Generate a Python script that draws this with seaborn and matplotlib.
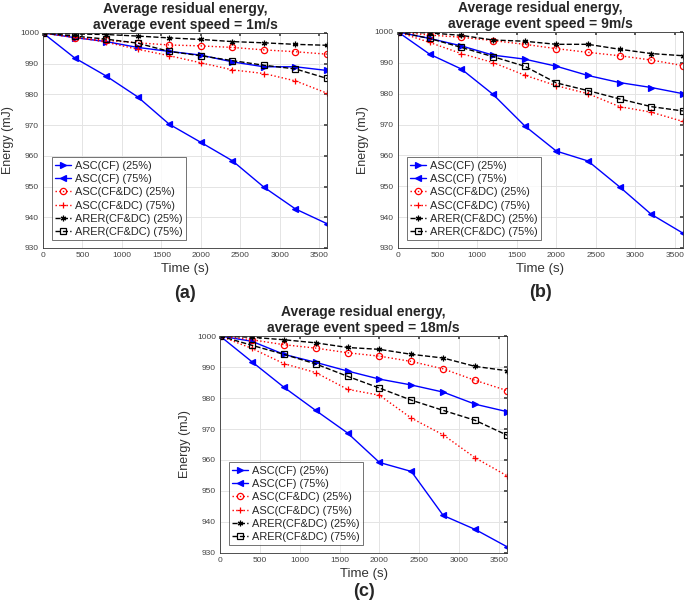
import numpy as np
import pandas as pd
import seaborn as sns
import matplotlib
matplotlib.use("Agg")
import matplotlib.pyplot as plt

# tiempos de muestreo (s)
time_s = [0, 400, 800, 1200, 1600, 2000, 2400, 2800, 3200, 3600]

series_names = ["ASC(CF) (25%)", "ASC(CF) (75%)", "ASC(CF&DC) (25%)",
                "ASC(CF&DC) (75%)", "ARER(CF&DC) (25%)", "ARER(CF&DC) (75%)"]

# (a) velocidad 1 m/s
a_asc_cf_25 = [1000, 998.5, 997.2, 995.3, 994.0, 992.8, 990.6, 989.0, 989.0, 987.8]
a_asc_cf_75 = [1000, 991.9, 986.0, 979.2, 970.3, 964.4, 958.4, 949.8, 942.7, 937.9]
a_asc_dc_25 = [1000, 998.5, 997.6, 996.8, 996.1, 995.8, 995.3, 994.5, 993.9, 993.1]
a_asc_dc_75 = [1000, 998.7, 997.0, 994.7, 992.6, 990.3, 988.0, 986.8, 984.4, 980.4]
a_arer_25 = [1000, 999.7, 999.5, 999.0, 998.4, 997.9, 997.2, 996.8, 996.3, 996.0]
a_arer_75 = [1000, 999.0, 998.0, 996.7, 994.0, 992.6, 991.0, 989.5, 988.3, 985.2]

# (b) velocidad 9 m/s
b_asc_cf_25 = [1000, 997.9, 995.5, 992.5, 991.2, 988.9, 985.9, 983.6, 982.0, 980.0]
b_asc_cf_75 = [1000, 992.8, 988.0, 979.8, 969.6, 961.4, 958.2, 949.8, 940.9, 934.8]
b_asc_dc_25 = [1000, 999.0, 998.3, 997.2, 996.0, 994.6, 993.4, 992.3, 990.9, 989.1]
b_asc_dc_75 = [1000, 996.6, 993.0, 990.1, 986.0, 982.6, 980.0, 975.8, 974.0, 971.0]
b_arer_25 = [1000, 999.7, 998.9, 997.4, 997.0, 996.0, 996.0, 994.4, 993.0, 992.3]
b_arer_75 = [1000, 997.9, 995.0, 992.0, 988.9, 983.5, 981.0, 978.3, 975.8, 974.4]

# (c) velocidad 18 m/s
c_asc_cf_25 = [1000, 998.3, 994.1, 991.5, 988.7, 986.1, 984.2, 981.9, 978.0, 975.6]
c_asc_cf_75 = [1000, 991.7, 983.5, 976.0, 968.7, 959.2, 956.3, 942.1, 937.6, 932.0]
c_asc_dc_25 = [1000, 998.8, 997.2, 996.1, 994.6, 993.5, 991.8, 989.4, 985.7, 982.4]
c_asc_dc_75 = [1000, 996.0, 991.1, 988.2, 982.8, 980.9, 973.5, 968.1, 960.7, 954.9]
c_arer_25 = [1000, 999.6, 998.8, 997.8, 996.3, 995.7, 994.1, 992.9, 990.2, 988.8]
c_arer_75 = [1000, 997.0, 994.1, 991.0, 987.0, 983.2, 979.3, 976.0, 972.8, 968.0]

panels = [
    ("(a)", "Average residual energy,\naverage event speed = 1m/s",
     [a_asc_cf_25, a_asc_cf_75, a_asc_dc_25, a_asc_dc_75, a_arer_25, a_arer_75]),
    ("(b)", "Average residual energy,\naverage event speed = 9m/s",
     [b_asc_cf_25, b_asc_cf_75, b_asc_dc_25, b_asc_dc_75, b_arer_25, b_arer_75]),
    ("(c)", "Average residual energy,\naverage event speed = 18m/s",
     [c_asc_cf_25, c_asc_cf_75, c_asc_dc_25, c_asc_dc_75, c_arer_25, c_arer_75]),
]

# estilo de cada serie: color, linea, marcador, relleno
styles = [
    ("#0000ff", "-", ">", "#0000ff"),
    ("#0000ff", "-", "<", "#0000ff"),
    ("#ff0000", ":", "o", "none"),
    ("#ff0000", ":", "+", "#ff0000"),
    ("#000000", "--", (6, 2, 0), "#000000"),
    ("#000000", "--", "s", "none"),
]

sns.set_theme(style="white")
plt.rcParams['font.family'] = ['Liberation Sans', 'DejaVu Sans']

fig = plt.figure(figsize=(6.85, 6.01), dpi=100)
# posicion de ejes y altura de la etiqueta (a)/(b)/(c)
positions = [
    ([0.0628, 0.5874, 0.4146, 0.3577], 0.512),
    ([0.581, 0.5874, 0.416, 0.3594], 0.514),
    ([0.3212, 0.0799, 0.419, 0.361], 0.016),
]

for (tag, title, data), (pos, tag_y) in zip(panels, positions):
    ax = fig.add_axes(pos)
    for name, vals, (col, ls, mk, mfc) in zip(series_names, data, styles):
        df = pd.DataFrame({"t": time_s, "e": vals})
        sns.lineplot(data=df, x="t", y="e", ax=ax, color=col, linestyle=ls,
                     marker=mk, markersize=4 if mk != "o" else 4.5,
                     markerfacecolor=mfc, markeredgecolor=col,
                     markeredgewidth=0.9, linewidth=1.0, label=name)
    ax.set_xlim(0, 3600)
    ax.set_ylim(930, 1000)
    ax.set_xticks(np.arange(0, 3600, 500))
    ax.set_yticks(np.arange(930, 1001, 10))
    ax.grid(True, color="#e4e4e4", linewidth=0.7)
    ax.tick_params(direction="in", labelsize=6, colors="#444444", length=2,
                   top=True, right=True, pad=3)
    for sp in ax.spines.values():
        sp.set_color("#333333")
        sp.set_linewidth(0.6)
    ax.set_xlabel("Time (s)", fontsize=9.5, color="#333333", labelpad=3)
    ax.set_ylabel("Energy (mJ)", fontsize=9, color="#333333", labelpad=4)
    ax.set_title(title, fontsize=10, fontweight="bold", pad=3, linespacing=1.15)
    leg = ax.legend(loc="lower left", bbox_to_anchor=(0.03, 0.035), fontsize=7.9,
                    frameon=True, fancybox=False, edgecolor="#333333",
                    borderpad=0.3, labelspacing=0.3, handlelength=1.5,
                    handletextpad=0.3, borderaxespad=0)
    leg.get_frame().set_linewidth(0.6)
    b = ax.get_position()
    fig.text(b.x0 + b.width / 2, tag_y, tag, ha="center", va="center",
             fontsize=13, fontweight="bold")

fig.savefig("out.png", dpi=100)
